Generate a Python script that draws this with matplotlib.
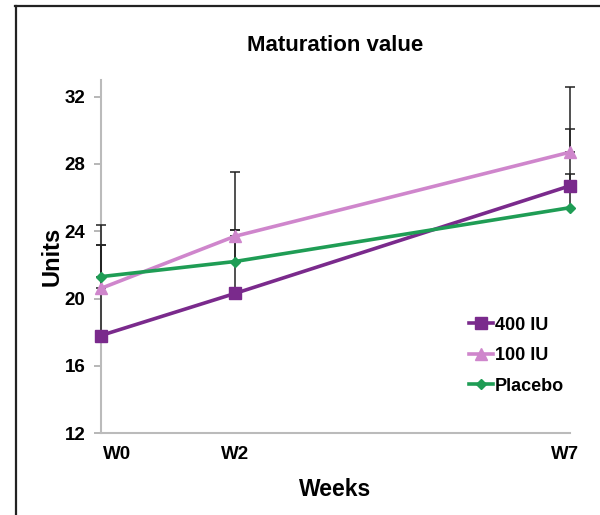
import matplotlib
matplotlib.use("Agg")
from matplotlib import pyplot as plt
from matplotlib.lines import Line2D
from matplotlib.transforms import ScaledTranslation

plt.rcParams['font.family'] = ['Liberation Sans', 'DejaVu Sans']

weeks = [0, 2, 7]
week_labels = ["W0", "W2", "W7"]

iu400 = [17.8, 20.3, 26.7]
iu100 = [20.6, 23.7, 28.7]
placebo = [21.3, 22.2, 25.4]

# upper error bar ends
iu400_top = [24.4, 27.5, 32.6]
iu100_top = [23.2, 24.1, 30.1]
placebo_top = [23.2, 24.1, 27.4]

series = [
    ("400 IU", iu400, iu400_top, "#7a2a8c", "s", 9),
    ("100 IU", iu100, iu100_top, "#cf86cc", "^", 9),
    ("Placebo", placebo, placebo_top, "#1f9d55", "D", 5.5),
]

fig = plt.figure(figsize=(6, 5.15), dpi=100)
ax = fig.add_axes([0.168, 0.159, 0.782, 0.686])

for name, vals, tops, color, marker, ms in series:
    err = [t - v for t, v in zip(tops, vals)]
    eb = ax.errorbar(weeks, vals, yerr=[[0] * len(vals), err], fmt="none",
                     ecolor="#222222", elinewidth=1.1, capsize=3.5, capthick=1.1, zorder=2.6)
    for art in eb.get_children():
        art.set_clip_on(False)

for name, vals, tops, color, marker, ms in series:
    ax.plot(weeks, vals, color=color, lw=2.6, marker=marker, ms=ms,
            label=name, zorder=3, clip_on=False)

ax.set_xlim(0, 7)
ax.set_ylim(12, 33)
ax.set_yticks([12, 16, 20, 24, 28, 32])
ax.set_xticks(weeks)
ax.set_xticklabels(week_labels)

for s in ["top", "right"]:
    ax.spines[s].set_visible(False)
for s in ["left", "bottom"]:
    ax.spines[s].set_color("#bbbbbb")
    ax.spines[s].set_linewidth(1.5)

ax.tick_params(axis="y", colors="#aaaaaa", length=5, width=1.2, labelcolor="black",
               labelsize=13.5, pad=6)
ax.tick_params(axis="x", length=0, labelsize=13.5, pad=9)
for lab in ax.get_yticklabels() + ax.get_xticklabels():
    lab.set_fontweight("bold")

xl = ax.get_xticklabels()
xl[0].set_transform(xl[0].get_transform() + ScaledTranslation(0.16, 0, fig.dpi_scale_trans))
xl[2].set_transform(xl[2].get_transform() + ScaledTranslation(-0.05, 0, fig.dpi_scale_trans))

ax.set_title("Maturation value", fontsize=16, fontweight="bold", pad=21)
ax.set_ylabel("Units", fontsize=17, fontweight="bold", labelpad=1)
ax.set_xlabel("Weeks", fontsize=16.5, fontweight="bold", labelpad=11)

ax.legend(loc="upper left", bbox_to_anchor=(0.77, 0.35), frameon=False,
          prop={"weight": "bold", "size": 13}, handlelength=1.3,
          handletextpad=0.1, labelspacing=0.75, borderaxespad=0)

# black frame on top and left edges
fig.add_artist(Line2D([15 / 600, 1], [1 - 6 / 515, 1 - 6 / 515], color="#222222", lw=1.6))
fig.add_artist(Line2D([16 / 600, 16 / 600], [0, 1 - 6 / 515], color="#222222", lw=1.6))

fig.savefig("out.png", dpi=100)
